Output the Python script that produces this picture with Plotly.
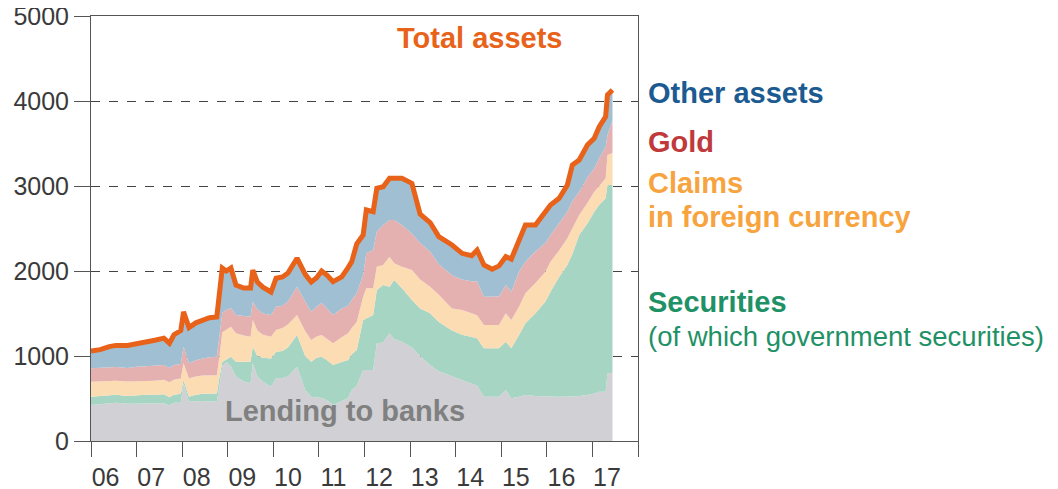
import plotly.graph_objects as go

# decimal years of the readings
years = [2006.00, 2006.20, 2006.40, 2006.55, 2006.80, 2007.00, 2007.20, 2007.40, 2007.60, 2007.72,
         2007.82, 2007.97, 2008.03, 2008.15, 2008.30, 2008.45, 2008.60, 2008.76, 2008.82, 2008.88,
         2008.97, 2009.07, 2009.18, 2009.35, 2009.50, 2009.55, 2009.65, 2009.77, 2009.95, 2010.06,
         2010.20, 2010.32, 2010.52, 2010.70, 2010.83, 2010.95, 2011.06, 2011.18, 2011.31, 2011.50,
         2011.64, 2011.72, 2011.83, 2011.97, 2012.04, 2012.19, 2012.27, 2012.41, 2012.55, 2012.65,
         2012.82, 2013.04, 2013.22, 2013.44, 2013.63, 2013.92, 2014.14, 2014.35, 2014.47, 2014.62,
         2014.80, 2014.95, 2015.10, 2015.22, 2015.39, 2015.53, 2015.75, 2015.97, 2016.08, 2016.27,
         2016.45, 2016.56, 2016.71, 2016.89, 2017.04, 2017.15, 2017.29, 2017.33, 2017.44]

# cumulative levels (top edge of each band)
lending = [424, 435, 440, 450, 438, 443, 440, 440, 445, 420,
           450, 450, 678, 463, 470, 470, 465, 463, 650, 880,
           930, 880, 760, 700, 678, 914, 760, 698, 639, 737,
           740, 760, 874, 600, 521, 510, 506, 480, 424, 470,
           506, 600, 650, 835, 835, 835, 1149, 1160, 1267, 1200,
           1168, 1100, 1000, 894, 820, 760, 718, 680, 650, 521,
           521, 521, 600, 502, 521, 541, 530, 521, 525, 521,
           521, 525, 530, 541, 560, 580, 580, 796, 800]
securities = [521, 530, 540, 545, 530, 540, 545, 545, 550, 515,
              545, 555, 718, 521, 545, 555, 560, 560, 760, 930,
              960, 992, 933, 935, 933, 1110, 1000, 980, 972, 1051,
              1060, 1100, 1247, 1000, 933, 980, 992, 950, 894, 930,
              953, 1020, 1071, 1424, 1443, 1482, 1776, 1835, 1816, 1894,
              1800, 1659, 1560, 1502, 1400, 1300, 1250, 1227, 1208, 1090,
              1090, 1090, 1168, 1090, 1247, 1384, 1502, 1640, 1757, 1930,
              2071, 2200, 2424, 2560, 2698, 2780, 2855, 3012, 3012]
claims = [698, 700, 705, 710, 700, 700, 705, 710, 720, 690,
          720, 735, 914, 737, 760, 770, 775, 775, 1000, 1280,
          1310, 1345, 1267, 1240, 1227, 1424, 1300, 1250, 1227, 1306,
          1330, 1370, 1482, 1290, 1188, 1230, 1247, 1200, 1149, 1220,
          1267, 1330, 1400, 1698, 1796, 1796, 2051, 2071, 2169, 2090,
          2050, 2012, 1900, 1816, 1720, 1560, 1540, 1502, 1480, 1365,
          1365, 1365, 1502, 1424, 1580, 1737, 1860, 1990, 2110, 2240,
          2384, 2500, 2659, 2800, 2933, 3000, 3090, 3365, 3388]
gold = [855, 860, 860, 870, 860, 875, 880, 885, 895, 860,
        895, 905, 1110, 915, 950, 970, 985, 990, 1250, 1510,
        1540, 1565, 1482, 1470, 1462, 1639, 1550, 1500, 1482, 1580,
        1590, 1640, 1816, 1640, 1521, 1580, 1624, 1560, 1482, 1560,
        1590, 1660, 1737, 1953, 2208, 2247, 2463, 2540, 2600, 2600,
        2540, 2440, 2330, 2230, 2080, 1950, 1900, 1880, 1880, 1698,
        1698, 1700, 1835, 1757, 1992, 2110, 2230, 2330, 2424, 2560,
        2698, 2820, 2933, 3100, 3208, 3330, 3463, 3600, 3770]
total = [1060, 1075, 1110, 1125, 1125, 1140, 1160, 1185, 1210, 1150,
         1250, 1300, 1520, 1335, 1390, 1425, 1450, 1460, 1760, 2035,
         2000, 2035, 1835, 1800, 1800, 2010, 1870, 1810, 1753, 1915,
         1930, 1976, 2150, 1960, 1871, 1920, 2000, 1950, 1875, 1930,
         2040, 2110, 2320, 2424, 2718, 2698, 2973, 2992, 3090, 3090,
         3090, 3031, 2670, 2570, 2404, 2306, 2208, 2180, 2247, 2071,
         2020, 2060, 2169, 2140, 2345, 2541, 2541, 2698, 2776, 2855,
         3012, 3247, 3306, 3482, 3561, 3698, 3816, 4071, 4129]

year_labels = ["06", "07", "08", "09", "10", "11", "12", "13", "14", "15", "16", "17"]

FONT = "Liberation Sans, Arial, sans-serif"

fig = go.Figure()

bands = [
    ("Lending to banks", lending, "#d1d0d5", "tozeroy"),
    ("Securities", securities, "#a6d5c4", "tonexty"),
    ("Claims in foreign currency", claims, "#fbdcb3", "tonexty"),
    ("Gold", gold, "#e5b1b0", "tonexty"),
    ("Other assets", total, "#a0bfd3", "tonexty"),
]
for name, vals, col, fill in bands:
    fig.add_trace(go.Scatter(x=years, y=vals, name=name, mode="lines",
                             line=dict(width=0), fill=fill, fillcolor=col,
                             hoverinfo="skip"))

fig.add_trace(go.Scatter(x=years, y=total, name="Total assets", mode="lines",
                         line=dict(color="#e8621a", width=5)))

# page body has an 8px margin, so the margins are shifted to compensate
fig.update_layout(
    width=1058, height=489,
    margin=dict(l=83, r=428, t=8, b=56),
    paper_bgcolor="white", plot_bgcolor="white",
    showlegend=False,
    font=dict(family=FONT, color="#3a3a3a"),
)

fig.update_xaxes(
    range=[2006, 2018], automargin=False,
    tickvals=[y + 0.32 for y in range(2006, 2018)], ticktext=year_labels,
    ticks="outside", ticklen=14, tickcolor="rgba(0,0,0,0)",
    tickfont=dict(size=25, color="#3a3a3a"),
    showline=True, linecolor="#555", linewidth=1, mirror=True,
    showgrid=False, zeroline=False, ticklabeloverflow="allow",
    minor=dict(ticks="outside", ticklen=15, tickcolor="#555", tickwidth=1,
               tick0=2006, dtick=1, showgrid=False),
)
fig.update_yaxes(
    range=[0, 5000], automargin=False,
    tickvals=[0, 1000, 2000, 3000, 4000, 5000],
    ticks="outside", ticklen=16, tickcolor="#555",
    tickfont=dict(size=25, color="#3a3a3a"), ticklabeloverflow="allow",
    showline=True, linecolor="#555", linewidth=1, mirror=True,
    showgrid=True, gridcolor="#444", griddash="dash", gridwidth=1,
    zeroline=False,
)

labels = [
    ("<b>Total assets</b>", 0.711, 0.948, "center", "#e8621a", 29),
    ("<b>Other assets</b>", 1.015, 0.819, "left", "#1c5a92", 29),
    ("<b>Gold</b>", 1.015, 0.704, "left", "#c0393b", 29),
    ("<b>Claims</b>", 1.015, 0.607, "left", "#f7a43f", 29),
    ("<b>in foreign currency</b>", 1.015, 0.527, "left", "#f7a43f", 29),
    ("<b>Securities</b>", 1.015, 0.327, "left", "#1f9166", 29),
    ("(of which government securities)", 1.015, 0.245, "left", "#1f9166", 27.5),
    ("<b>Lending to banks</b>", 0.464, 0.071, "center", "#808080", 29),
]
for txt, x, y, anchor, col, size in labels:
    fig.add_annotation(text=txt, x=x, y=y, xref="paper", yref="paper",
                       xanchor=anchor, yanchor="middle", showarrow=False,
                       font=dict(size=size, color=col, family=FONT))

fig.write_html("out.html")
